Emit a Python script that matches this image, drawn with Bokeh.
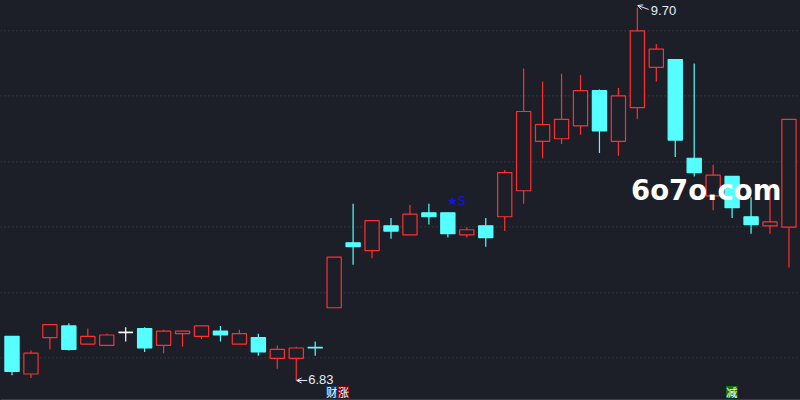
from bokeh.plotting import figure
from bokeh.models import Range1d, Span, Label, Arrow, OpenHead
from bokeh.core.properties import value
from bokeh.embed import file_html
from bokeh.resources import INLINE

# ---------------- data ----------------
opens = [7.17, 6.88, 7.16, 7.25, 7.11, 7.10, 7.20, 7.23, 7.10, 7.19,
         7.17, 7.21, 7.11, 7.16, 7.00, 7.00, 7.085, 7.39, 7.89, 7.83,
         8.02, 7.95, 8.12, 8.12, 7.95, 8.02, 8.09, 8.29, 8.67, 8.69,
         8.79, 9.06, 8.67, 8.93, 9.24, 9.30, 8.54, 8.25, 8.40, 8.09,
         8.02, 8.01]
highs = [7.17, 7.06, 7.26, 7.27, 7.23, 7.19, 7.24, 7.24, 7.22, 7.21,
         7.25, 7.25, 7.22, 7.19, 7.10, 7.09, 7.13, 7.78, 8.19, 8.06,
         8.08, 8.18, 8.19, 8.12, 8.01, 8.08, 8.45, 9.23, 9.13, 9.19,
         9.18, 9.07, 9.08, 9.70, 9.42, 9.30, 9.27, 8.49, 8.40, 8.24,
         8.34, 8.84]
lows = [6.87, 6.85, 7.07, 7.06, 7.11, 7.10, 7.13, 7.05, 7.04, 7.09,
        7.15, 7.13, 7.11, 7.02, 6.92, 6.83, 7.02, 7.39, 7.72, 7.77,
        7.92, 7.95, 8.03, 7.93, 7.93, 7.86, 7.98, 8.19, 8.54, 8.65,
        8.72, 8.58, 8.56, 8.84, 9.13, 8.55, 8.40, 8.14, 8.08, 7.96,
        7.96, 7.70]
closes = [6.90, 7.04, 7.26, 7.07, 7.17, 7.18, 7.20, 7.08, 7.21, 7.21,
          7.25, 7.18, 7.19, 7.05, 7.07, 7.08, 7.08, 7.78, 7.86, 8.06,
          7.98, 8.11, 8.09, 7.96, 7.99, 7.93, 8.43, 8.90, 8.80, 8.84,
          9.06, 8.75, 9.02, 9.52, 9.38, 8.68, 8.43, 8.41, 8.16, 8.03,
          8.05, 8.84]
grid_levels = [7.004, 7.505, 8.012, 8.513, 9.020, 9.521]
tag_index = [17, 17, 38]
tag_text = ["财", "涨", "减"]
signal_index = [23]
signal_text = ["★S"]
watermark = "6o7o.com"

# ---------------- style ----------------
BG = "#1c1f28"
UP = "#ff3030"
DOWN = "#55ffff"
FLAT = "#ffffff"
GRID = "#4a4e58"
NOTE = "#e4ecfa"
tag_bg = ["#123d72", "#7a0606", "#0b780b"]
tag_dx_px = [-2.4, 9.4, -0.3]

X0, X1 = -0.607, 41.609
Y0, Y1 = 6.6762, 9.7539
W, H = 800, 400
px_x = (X1 - X0) / W
px_y = (Y1 - Y0) / H

n = len(opens)
idx = list(range(n))
col = []
for o, c in zip(opens, closes):
    col.append(UP if c > o else (DOWN if c < o else FLAT))
fill = [BG if cc == UP else cc for cc in col]
tops = [max(o, c) for o, c in zip(opens, closes)]
bots = [min(o, c) for o, c in zip(opens, closes)]
BW = 0.75

p = figure(width=W, height=H, x_range=Range1d(X0, X1), y_range=Range1d(Y0, Y1),
           output_backend="svg", toolbar_location=None, min_border=0,
           background_fill_color=BG, border_fill_color=BG, outline_line_color=None)
p.axis.visible = False
p.xgrid.visible = False
p.ygrid.visible = False

for g in grid_levels:
    p.add_layout(Span(location=g, dimension="width", line_color=GRID,
                      line_dash="1 3", line_width=1, level="underlay"))
p.add_layout(Span(location=Y1 - 399 * px_y, dimension="width",
                  line_color="#3a3e48", line_width=1, level="underlay"))

# wicks
p.segment(x0=idx, y0=lows, x1=idx, y1=highs, line_color=col, line_width=1.2)
# bodies
p.vbar(x=idx, width=BW, top=tops, bottom=bots, fill_color=fill, line_color=col, line_width=1.2)
# doji bodies as a horizontal stroke
dj = [i for i in idx if opens[i] == closes[i]]
p.segment(x0=[i - BW / 2 for i in dj], y0=[opens[i] for i in dj],
          x1=[i + BW / 2 for i in dj], y1=[opens[i] for i in dj],
          line_color=[col[i] for i in dj], line_width=1.5)

# max / min notes
imax = max(idx, key=lambda i: highs[i])
imin = min(idx, key=lambda i: lows[i])
p.add_layout(Arrow(end=OpenHead(size=5, line_color=NOTE, line_width=1),
                   x_start=imax + 0.6, y_start=highs[imax] - 2 * px_y,
                   x_end=imax + 0.02, y_end=highs[imax] + 2 * px_y,
                   line_color=NOTE, line_width=1))
p.add_layout(Arrow(end=OpenHead(size=5, line_color=NOTE, line_width=1),
                   x_start=imin + 0.58, y_start=lows[imin],
                   x_end=imin + 0.02, y_end=lows[imin],
                   line_color=NOTE, line_width=1))
p.text(x=[imax], y=[highs[imax]], text=[f"{highs[imax]:.2f}"], x_offset=13.5, y_offset=2.6,
       text_align="left", text_baseline="middle", text_color=NOTE,
       text_font=value("Liberation Sans"), text_font_size="13px")
p.text(x=[imin], y=[lows[imin]], text=[f"{lows[imin]:.2f}"], x_offset=12, y_offset=-1,
       text_align="left", text_baseline="middle", text_color=NOTE,
       text_font=value("Liberation Sans"), text_font_size="13px")

# signal
p.text(x=signal_index, y=[highs[i] for i in signal_index], text=signal_text,
       x_offset=-0.5, y_offset=-11.5, text_align="left", text_baseline="middle",
       text_color="#1414e6", text_font=value("DejaVu Sans"), text_font_size="12px")

# bottom tags
ty = Y1 - 391.5 * px_y
tx = [i + d * px_x for i, d in zip(tag_index, tag_dx_px)]
p.rect(x=tx, y=[ty] * len(tx), width=11.5, height=12, width_units="screen",
       height_units="screen", fill_color=tag_bg, line_color=None)
p.text(x=tx, y=[ty] * len(tx), text=tag_text, text_align="center", text_baseline="middle",
       text_color="#ffffff", text_font=value("Noto Sans CJK SC"), text_font_size="11px")

# watermark
p.add_layout(Label(x=630.5, y=H - 189.5, x_units="screen", y_units="screen",
                   text=watermark, text_color="#ffffff", text_font="DejaVu Sans",
                   text_font_style="bold", text_font_size="27.5px",
                   text_baseline="alphabetic", text_align="left"))

html = file_html(p, INLINE)
html = html.replace("</head>", "<style>html,body{margin:0;padding:0;background:%s;overflow:hidden;}</style></head>" % BG, 1)
open("out.html", "w").write(html)
